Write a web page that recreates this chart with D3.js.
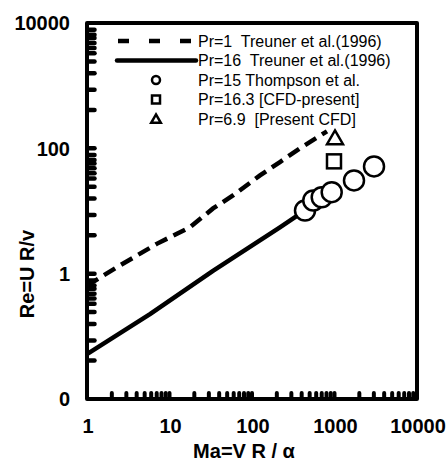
<!DOCTYPE html>
<html>
<head>
<meta charset="utf-8">
<script src="https://cdn.jsdelivr.net/npm/d3@7"></script>
<style>
  body { margin: 0; background: #fff; }
  text { font-family: Arial, "Liberation Sans", sans-serif; fill: #000; }
</style>
</head>
<body>
<div id="chart"></div>
<script>
// Pr=1 Treuner et al.(1996) - dashed curve
const pr1Ma = [1, 2.29, 7.0, 17.7, 33.7, 58.8, 125, 218, 382, 811];
const pr1Re = [0.643, 1.26, 2.99, 5.5, 11.0, 17.7, 37, 60.4, 100, 187];
// Pr=16 Treuner et al.(1996) - solid curve
const pr16Ma = [1, 5.8, 34, 218, 440];
const pr16Re = [0.052, 0.226, 1.12, 5.5, 10.2];
// Pr=15 Thompson et al. - circles
const thompsonMa = [439, 553, 700, 925, 1723, 3013];
const thompsonRe = [10.2, 14.7, 16.6, 20, 30.8, 51.5];
// Pr=16.3 [CFD-present] - square
const cfdMa = [986];
const cfdRe = [62];
// Pr=6.9 [Present CFD] - triangle
const presentMa = [1014];
const presentRe = [143];

const xTicks = [1, 10, 100, 1000, 10000];
const xTickLabels = ["1", "10", "100", "1000", "10000"];
const yTicks = [0.01, 1, 100, 10000];
const yTickLabels = ["0", "1", "100", "10000"];
// minor ticks on the y axis, as multiples of the lower major value
const yMinorSteps = [4.1, 8.6, 15.8, 24.4, 33, 40, 48, 57.5, 65, 78];

const legendLabels = [
    "Pr=1  Treuner et al.(1996)",
    "Pr=16  Treuner et al.(1996)",
    "Pr=15 Thompson et al.",
    "Pr=16.3 [CFD-present]",
    "Pr=6.9  [Present CFD]"
];
const legendKinds = ["dash", "line", "circle", "square", "triangle"];

const W = 446, H = 464;
const margin = { top: 23, right: 29, bottom: 65, left: 87 };
const width = W - margin.left - margin.right;
const height = H - margin.top - margin.bottom;

const svg = d3.select("#chart")
    .append("svg")
    .attr("width", W)
    .attr("height", H);

const g = svg.append("g")
    .attr("transform", `translate(${margin.left},${margin.top})`);

const x = d3.scaleLog().domain([1, 10000]).range([0, width]);
const y = d3.scaleLog().domain([0.01, 10000]).range([height, 0]);

// frame
g.append("rect")
    .attr("x", 0)
    .attr("y", 0)
    .attr("width", width)
    .attr("height", height)
    .attr("fill", "none")
    .attr("stroke", "#000")
    .attr("stroke-width", 4)
    .attr("stroke-linejoin", "round");

// minor ticks, bottom axis (small blobs pointing inward)
const xMinor = x.ticks().filter(v => v > 1 && v < 10000);
g.append("g")
    .selectAll("rect")
    .data(xMinor)
    .enter()
    .append("rect")
    .attr("x", d => x(d) - 2)
    .attr("y", height - 8)
    .attr("width", 4)
    .attr("height", 9)
    .attr("rx", 2)
    .attr("fill", "#000");

// minor ticks, left axis - one short stroke per tick
const yMinor = [];
yTicks.slice(0, -1).forEach(base => {
    yMinorSteps.forEach(m => yMinor.push(base * m));
});
g.append("g")
    .selectAll("line")
    .data(yMinor.concat(yTicks.slice(1, -1)))
    .enter()
    .append("line")
    .attr("x1", 1)
    .attr("x2", 7.5)
    .attr("y1", d => y(d))
    .attr("y2", d => y(d))
    .attr("stroke", "#000")
    .attr("stroke-width", 4.5)
    .attr("stroke-linecap", "round");

// tick labels
g.append("g")
    .selectAll("text")
    .data(xTicks)
    .enter()
    .append("text")
    .attr("x", d => x(d) + 1)
    .attr("y", height + 34)
    .attr("text-anchor", "middle")
    .attr("font-size", "20px")
    .attr("font-weight", "bold")
    .text((d, i) => xTickLabels[i]);

g.append("g")
    .selectAll("text")
    .data(yTicks)
    .enter()
    .append("text")
    .attr("x", -17)
    .attr("y", d => y(d))
    .attr("dy", "0.36em")
    .attr("text-anchor", "end")
    .attr("font-size", "20px")
    .attr("font-weight", "bold")
    .text((d, i) => yTickLabels[i]);

// axis titles
svg.append("text")
    .attr("x", 244)
    .attr("y", 458)
    .attr("text-anchor", "middle")
    .attr("font-size", "20px")
    .attr("font-weight", "bold")
    .text("Ma=V R / α");

svg.append("text")
    .attr("transform", "translate(27,274) rotate(-90)")
    .attr("dy", "0.36em")
    .attr("text-anchor", "middle")
    .attr("font-size", "20px")
    .attr("font-weight", "bold")
    .text("Re=U R/v");

// curves
const lineGen = d3.line()
    .x(d => x(d[0]))
    .y(d => y(d[1]));

g.append("path")
    .datum(pr1Ma.map((v, i) => [v, pr1Re[i]]))
    .attr("fill", "none")
    .attr("stroke", "#000")
    .attr("stroke-width", 4.5)
    .attr("stroke-dasharray", "13,7")
    .attr("d", lineGen);

g.append("path")
    .datum(pr16Ma.map((v, i) => [v, pr16Re[i]]))
    .attr("fill", "none")
    .attr("stroke", "#000")
    .attr("stroke-width", 4.5)
    .attr("stroke-linejoin", "round")
    .attr("d", lineGen);

// markers
g.append("g")
    .selectAll("circle")
    .data(thompsonMa.map((v, i) => [v, thompsonRe[i]]))
    .enter()
    .append("circle")
    .attr("cx", d => x(d[0]))
    .attr("cy", d => y(d[1]))
    .attr("r", 10)
    .attr("fill", "#fff")
    .attr("stroke", "#000")
    .attr("stroke-width", 2.5);

g.append("g")
    .selectAll("rect")
    .data(cfdMa.map((v, i) => [v, cfdRe[i]]))
    .enter()
    .append("rect")
    .attr("x", d => x(d[0]) - 7)
    .attr("y", d => y(d[1]) - 7)
    .attr("width", 14)
    .attr("height", 14)
    .attr("fill", "#fff")
    .attr("stroke", "#000")
    .attr("stroke-width", 2.5);

const tri = d3.symbol().type(d3.symbolTriangle).size(110);
g.append("g")
    .selectAll("path")
    .data(presentMa.map((v, i) => [v, presentRe[i]]))
    .enter()
    .append("path")
    .attr("transform", d => `translate(${x(d[0])},${y(d[1]) + 1})`)
    .attr("d", tri)
    .attr("fill", "#fff")
    .attr("stroke", "#000")
    .attr("stroke-width", 2.5);

// legend
const legend = g.append("g")
    .attr("transform", "translate(0,18)");

const rows = legend.selectAll(".legend")
    .data(legendLabels)
    .enter()
    .append("g")
    .attr("class", "legend")
    .attr("transform", (d, i) => `translate(0,${i * 19.5})`);

rows.append("text")
    .attr("x", 111)
    .attr("dy", "0.36em")
    .attr("font-size", "16px")
    .style("white-space", "pre")
    .text(d => d);

rows.each(function (d, i) {
    const row = d3.select(this);
    const kind = legendKinds[i];
    if (kind === "dash" || kind === "line") {
        row.append("line")
            .attr("x1", kind === "dash" ? 31 : 30)
            .attr("x2", kind === "dash" ? 105 : 109)
            .attr("stroke", "#000")
            .attr("stroke-width", 4.5)
            .attr("stroke-linecap", kind === "dash" ? "butt" : "round")
            .attr("stroke-dasharray", kind === "dash" ? "11,20" : null);
    } else if (kind === "circle") {
        row.append("circle")
            .attr("cx", 69)
            .attr("r", 4)
            .attr("fill", "#fff")
            .attr("stroke", "#000")
            .attr("stroke-width", 2.5);
    } else if (kind === "square") {
        row.append("rect")
            .attr("x", 65)
            .attr("y", -4)
            .attr("width", 8)
            .attr("height", 8)
            .attr("fill", "#fff")
            .attr("stroke", "#000")
            .attr("stroke-width", 2.5);
    } else {
        row.append("path")
            .attr("transform", "translate(69,1)")
            .attr("d", d3.symbol().type(d3.symbolTriangle).size(40))
            .attr("fill", "#fff")
            .attr("stroke", "#000")
            .attr("stroke-width", 2.5);
    }
});
</script>
</body>
</html>
